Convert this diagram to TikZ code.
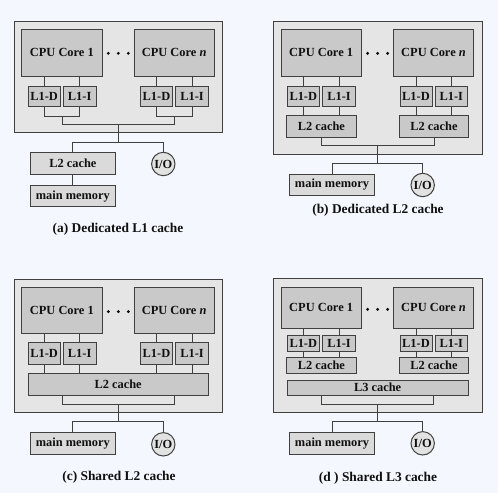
\documentclass[tikz,border=0pt]{standalone}
\usepackage{fontspec}
\setmainfont{Liberation Serif}
\usetikzlibrary{calc}
\definecolor{bgc}{HTML}{F4F7FD}
\definecolor{edge}{HTML}{404040}
\definecolor{chipfill}{HTML}{E5E5E5}
\definecolor{boxfill}{HTML}{C9C9C9}
\definecolor{lightfill}{HTML}{DADADA}
\definecolor{iofill}{HTML}{E2E2E2}
\definecolor{txt}{HTML}{101010}
\tikzset{
  chip/.style={draw=edge, fill=chipfill, line width=1pt, inner sep=0pt},
  box/.style={draw=edge, fill=boxfill, line width=1pt, inner sep=0pt, text=txt, font=\fontsize{12.4}{14}\selectfont\bfseries},
  light/.style={box, fill=lightfill},
  io/.style={circle, draw=edge, fill=iofill, line width=1pt, inner sep=0pt, minimum size=23.4pt, text=txt, font=\fontsize{12.4}{14}\selectfont\bfseries},
  captiontext/.style={inner sep=0pt, text=txt, font=\fontsize{13.4}{15}\selectfont\bfseries},
  wire/.style={draw=edge, line width=1pt},
  dotfill/.style={fill=txt}
}
\newcommand\Bx[7]{\node[#6,minimum width={(#4)-(#2)},minimum height={(#5)-(#3)}] (#1) at ({((#2)+(#4))/2},{((#3)+(#5))/2}) {#7};}
\newcommand\Dots[1]{%
  \fill[dotfill] (108.3,#1) circle[radius=1.6pt];
  \fill[dotfill] (118.3,#1) circle[radius=1.6pt];
  \fill[dotfill] (128.3,#1) circle[radius=1.6pt];}
\begin{document}
\begin{tikzpicture}[x=1pt,y=-1pt]
\fill[bgc] (0,0) rectangle (498,493);
\useasboundingbox (0,0) rectangle (498,493);

% ---------------- (a) ----------------
\begin{scope}[name prefix=a-]
\Bx{chip}{14}{21}{222.7}{132.3}{chip}{}
\Bx{c1}{21.7}{29.3}{102}{76}{box}{CPU Core 1}
\Bx{cn}{134}{29.3}{214.3}{76}{box}{CPU Core \textit{n}}
\Dots{53.3}
\Bx{d1}{28}{86}{60.3}{106.7}{box}{L1-D}
\Bx{i1}{63.3}{86}{96}{106.7}{box}{L1-I}
\Bx{dn}{140.3}{86}{172.7}{106.7}{box}{L1-D}
\Bx{in}{175.7}{86}{208.3}{106.7}{box}{L1-I}
\draw[wire] (d1.north) -- (d1.north |- c1.south);
\draw[wire] (i1.north) -- (i1.north |- c1.south);
\draw[wire] (dn.north) -- (dn.north |- cn.south);
\draw[wire] (in.north) -- (in.north |- cn.south);
\draw[wire] (d1.south) -- ++(0,9) -| (i1.south);
\draw[wire] (dn.south) -- ++(0,9) -| (in.south);
\coordinate (j1) at (62,115.7);
\coordinate (jn) at (174.2,115.7);
\coordinate (m) at (118.1,124.3);
\coordinate (bus) at (118.1,142.3);
\draw[wire] (j1) |- (m) -| (jn);
\draw[wire] (m) -- (bus);
\Bx{l2}{30}{152.7}{115.7}{174.3}{light}{L2 cache}
\node[io] (io) at (163.3,164) {I/O};
\draw[wire] (l2.north) |- (bus) -| (io.north);
\Bx{mm}{30}{185.7}{115.7}{206.7}{light}{main memory}
\draw[wire] (l2.south) -- (mm.north);
\node[captiontext] (cap) at (118,229.3) {(a) Dedicated L1 cache};
\end{scope}

% ---------------- (b) ----------------
\begin{scope}[shift={(259.3,0)}, name prefix=b-]
\Bx{chip}{14}{21}{223.4}{154.3}{chip}{}
\Bx{c1}{21.7}{29.3}{102}{76}{box}{CPU Core 1}
\Bx{cn}{134}{29.3}{214.4}{76}{box}{CPU Core \textit{n}}
\Dots{53.3}
\Bx{d1}{28}{86}{60}{106.7}{box}{L1-D}
\Bx{i1}{63.4}{86}{96}{106.7}{box}{L1-I}
\Bx{dn}{140.7}{86}{172.7}{106.7}{box}{L1-D}
\Bx{in}{175.7}{86}{208.4}{106.7}{box}{L1-I}
\Bx{la}{27.4}{115.7}{96.7}{137}{box}{L2 cache}
\Bx{ln}{140}{115.7}{209.4}{137}{box}{L2 cache}
\draw[wire] (d1.north) -- (d1.north |- c1.south);
\draw[wire] (i1.north) -- (i1.north |- c1.south);
\draw[wire] (dn.north) -- (dn.north |- cn.south);
\draw[wire] (in.north) -- (in.north |- cn.south);
\draw[wire] (d1.south) -- (d1.south |- la.north);
\draw[wire] (i1.south) -- (i1.south |- la.north);
\draw[wire] (dn.south) -- (dn.south |- ln.north);
\draw[wire] (in.south) -- (in.south |- ln.north);
\draw[wire] (la.south) -- ++(0,8.3) -| (ln.south);
\coordinate (m) at (118.4,145.3);
\coordinate (bus) at (118.4,163.3);
\draw[wire] (m) -- (bus);
\Bx{mm}{30}{174.3}{115.4}{195.7}{light}{main memory}
\node[io] (io) at (163.4,185) {I/O};
\draw[wire] (mm.north) |- (bus) -| (io.north);
\node[captiontext] (cap) at (118.7,210.7) {(b) Dedicated L2 cache};
\end{scope}

% ---------------- (c) ----------------
\begin{scope}[shift={(0,258.3)}, name prefix=c-]
\Bx{chip}{14}{20.7}{222.7}{154}{chip}{}
\Bx{c1}{21.7}{29.4}{102}{75.4}{box}{CPU Core 1}
\Bx{cn}{134}{29.4}{214.3}{75.4}{box}{CPU Core \textit{n}}
\Dots{53.3}
\Bx{d1}{28}{84.4}{60.3}{106}{box}{L1-D}
\Bx{i1}{63.3}{84.4}{96}{106}{box}{L1-I}
\Bx{dn}{140.3}{84.4}{172.7}{106}{box}{L1-D}
\Bx{in}{175.7}{84.4}{208.3}{106}{box}{L1-I}
\Bx{l2}{28}{115}{208.3}{137}{box}{L2 cache}
\draw[wire] (d1.north) -- (d1.north |- c1.south);
\draw[wire] (i1.north) -- (i1.north |- c1.south);
\draw[wire] (dn.north) -- (dn.north |- cn.south);
\draw[wire] (in.north) -- (in.north |- cn.south);
\draw[wire] (d1.south) -- (d1.south |- l2.north);
\draw[wire] (i1.south) -- (i1.south |- l2.north);
\draw[wire] (dn.south) -- (dn.south |- l2.north);
\draw[wire] (in.south) -- (in.south |- l2.north);
\coordinate (ba) at (62.3,145.7);
\coordinate (bn) at (174,145.7);
\coordinate (m) at (118.2,145.7);
\coordinate (bus) at (118.2,163.4);
\draw[wire] (ba |- l2.south) -- (ba) -- (bn) -- (bn |- l2.south);
\draw[wire] (m) -- (bus);
\Bx{mm}{30}{174}{115.7}{195.7}{light}{main memory}
\node[io] (io) at (163.3,186) {I/O};
\draw[wire] (mm.north) |- (bus) -| (io.north);
\node[captiontext] (cap) at (119,219.4) {(c) Shared L2 cache};
\end{scope}

% ---------------- (d) ----------------
\begin{scope}[shift={(259.3,258.3)}, name prefix=d-]
\Bx{chip}{14}{20.4}{223.4}{154}{chip}{}
\Bx{c1}{21.7}{29.4}{102}{69.7}{box}{CPU Core 1}
\Bx{cn}{134}{29.4}{214.4}{69.7}{box}{CPU Core \textit{n}}
\Dots{51}
\Bx{d1}{28}{77.4}{60}{92.7}{box}{L1-D}
\Bx{i1}{63.4}{77.4}{96}{92.7}{box}{L1-I}
\Bx{dn}{140.7}{77.4}{172.7}{92.7}{box}{L1-D}
\Bx{in}{175.7}{77.4}{208.4}{92.7}{box}{L1-I}
\Bx{la}{27.4}{99}{96.7}{115}{box}{L2 cache}
\Bx{ln}{140}{99}{209.4}{115}{box}{L2 cache}
\Bx{l3}{28}{122}{208.7}{136.7}{box}{L3 cache}
\draw[wire] (d1.north) -- (d1.north |- c1.south);
\draw[wire] (i1.north) -- (i1.north |- c1.south);
\draw[wire] (dn.north) -- (dn.north |- cn.south);
\draw[wire] (in.north) -- (in.north |- cn.south);
\draw[wire] (d1.south) -- (d1.south |- la.north);
\draw[wire] (i1.south) -- (i1.south |- la.north);
\draw[wire] (dn.south) -- (dn.south |- ln.north);
\draw[wire] (in.south) -- (in.south |- ln.north);
\coordinate (ba) at (62.4,145.7);
\coordinate (bn) at (174,145.7);
\coordinate (m) at (118.2,145.7);
\coordinate (bus) at (118.2,163.4);
\draw[wire] (ba |- l3.south) -- (ba) -- (bn) -- (bn |- l3.south);
\draw[wire] (m) -- (bus);
\Bx{mm}{30}{174.4}{115.4}{195.7}{light}{main memory}
\node[io] (io) at (163.4,185) {I/O};
\draw[wire] (mm.north) |- (bus) -| (io.north);
\node[captiontext] (cap) at (118.7,220) {(d ) Shared L3 cache};
\end{scope}
\end{tikzpicture}
\end{document}
